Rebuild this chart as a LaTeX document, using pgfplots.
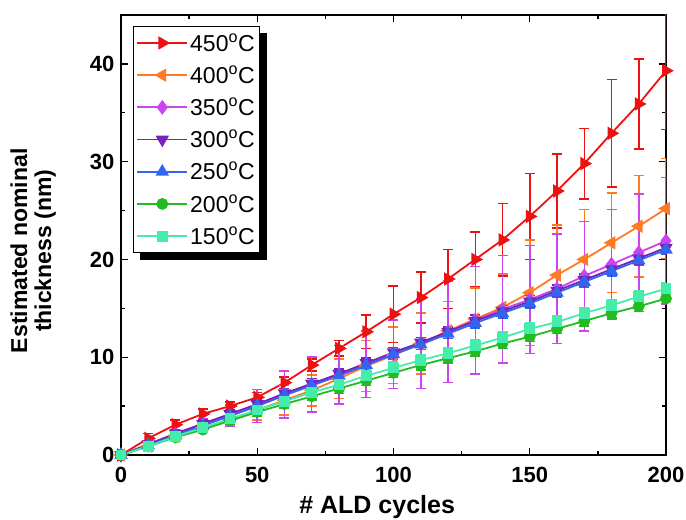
\documentclass[border=0pt]{standalone}
\usepackage{fontspec}
\setmainfont{Liberation Sans}
\usepackage{pgfplots}
\pgfplotsset{compat=1.18}
\usepackage{pgfplotstable}
\pgfdeclarelayer{background}
\pgfsetlayers{background,main}

\definecolor{c450}{HTML}{EE1111}
\definecolor{c400}{HTML}{FF7A22}
\definecolor{c350}{HTML}{CC44EE}
\definecolor{c300}{HTML}{7722BB}
\definecolor{c250}{HTML}{3366EE}
\definecolor{c200}{HTML}{22BB22}
\definecolor{c150}{HTML}{44EEAA}

% columns: cycles, thickness (nm), error (nm)
\pgfplotstableread{
x y e
0 0 0
10 1.7 0.5
20 3.1 0.5
30 4.2 0.5
40 5.0 0.4
50 5.9 0.5
60 7.4 0.6
70 9.2 0.6
80 10.9 0.8
90 12.6 1.7
100 14.4 2.9
110 16.1 2.6
120 18.0 3.0
130 20.0 2.8
140 22.0 3.7
150 24.4 4.4
160 27.0 3.8
170 29.8 3.6
180 32.9 5.5
190 35.9 4.6
200 39.3 6.0
}\tA
\pgfplotstableread{
x y e
0 0 0
10 0.9 0.3
20 1.9 0.4
30 2.8 0.5
40 3.6 0.6
50 4.6 1.0
60 5.6 1.5
70 6.6 1.6
80 7.8 2.0
90 9.1 2.6
100 10.2 2.9
110 11.4 3.1
120 12.7 3.0
130 13.9 3.2
140 15.1 3.4
150 16.6 5.4
160 18.4 5.1
170 20.0 5.1
180 21.7 5.1
190 23.4 5.2
200 25.2 5.1
}\tB
\pgfplotstableread{
x y e
0 0 0
10 1.0 0.3
20 2.1 0.4
30 3.1 0.6
40 4.0 1.1
50 5.0 1.7
60 6.2 2.4
70 7.2 2.8
80 8.2 3.0
90 9.3 3.4
100 10.3 3.5
110 11.4 4.6
120 12.6 5.2
130 13.8 5.5
140 14.9 5.5
150 15.9 5.5
160 17.0 5.6
170 18.3 5.6
180 19.5 5.6
190 20.7 6.0
200 21.9 6.5
}\tC
\pgfplotstableread{
x y e
0 0 0
10 1.1 0.3
20 2.2 0.3
30 3.2 0.4
40 4.2 0.4
50 5.2 0.4
60 6.3 0.5
70 7.3 0.5
80 8.3 0.5
90 9.4 0.5
100 10.5 0.5
110 11.5 0.5
120 12.6 0.5
130 13.7 0.6
140 14.7 0.6
150 15.7 0.6
160 16.8 0.6
170 17.9 0.6
180 19.0 0.6
190 20.1 0.6
200 21.2 0.6
}\tD
\pgfplotstableread{
x y e
0 0 0
10 1.0 0.3
20 2.0 0.3
30 3.0 0.3
40 4.0 0.4
50 5.0 0.4
60 6.1 0.4
70 7.1 0.4
80 8.1 0.5
90 9.2 0.5
100 10.3 0.5
110 11.3 0.5
120 12.4 0.5
130 13.5 0.5
140 14.5 0.5
150 15.5 0.5
160 16.6 0.5
170 17.7 0.5
180 18.8 0.5
190 19.9 0.5
200 21.0 0.5
}\tE
\pgfplotstableread{
x y e
0 0 0
10 0.9 0.3
20 1.8 0.3
30 2.6 0.3
40 3.5 0.4
50 4.4 0.4
60 5.2 0.4
70 6.0 0.4
80 6.8 0.5
90 7.6 0.5
100 8.4 0.5
110 9.2 0.5
120 9.9 0.5
130 10.6 0.5
140 11.4 0.5
150 12.1 0.5
160 12.9 0.5
170 13.7 0.5
180 14.5 0.5
190 15.2 0.5
200 16.0 0.5
}\tF
\pgfplotstableread{
x y e
0 0 0
10 0.9 0.3
20 1.9 0.3
30 2.8 0.4
40 3.7 0.4
50 4.6 0.5
60 5.5 0.5
70 6.4 0.5
80 7.2 0.5
90 8.1 0.6
100 8.9 0.6
110 9.7 0.6
120 10.4 0.6
130 11.2 0.6
140 12.0 0.6
150 12.9 0.6
160 13.6 0.6
170 14.5 0.6
180 15.3 0.6
190 16.2 0.6
200 17.0 0.6
}\tG

\begin{document}
\begin{tikzpicture}
\begin{axis}[
  name=ax,
  scale only axis,
  width=545pt, height=440pt,
  xmin=0, xmax=200, ymin=0, ymax=45,
  xtick={0,50,...,200}, ytick={0,10,...,40},
  minor x tick num=1, minor y tick num=1,
  tick align=inside,
  major tick length=7pt, minor tick length=4pt,
  axis line style={line width=1.6pt},
  every tick/.style={black, line width=1.4pt},
  /pgf/number format/assume math mode=true,
  tick label style={font=\fontsize{22}{26}\selectfont\bfseries},
  xticklabel style={yshift=-9pt},
  yticklabel style={xshift=-3pt},
  xlabel={\# ALD cycles},
  ylabel={Estimated nominal\\thickness (nm)},
  xlabel style={font=\fontsize{25}{29}\selectfont\bfseries,
    at={(axis description cs:0.47,0)}, anchor=north, yshift=-37pt},
  ylabel style={font=\fontsize{23}{24}\selectfont\bfseries,
    at={(axis description cs:-0.119,0.464)}, anchor=south,
    align=center, inner sep=0pt},
  legend style={name=leg, at={(0.022,0.975)}, anchor=north west,
    font=\fontsize{23}{26}\selectfont, draw=black, line width=0.8pt,
    fill=white, row sep=9pt, inner xsep=3pt, inner ysep=5pt},
  legend cell align=left,
  legend image code/.code={%
    \draw[mark=none] (0pt,0pt) -- (50pt,0pt);
    \draw[only marks] plot coordinates {(25pt,0pt)};},
  every axis plot/.append style={line width=1.8pt},
  error bars/error bar style={line width=1.5pt},
  error bars/error mark options={rotate=90, mark size=5pt, line width=1.5pt},
]
% legend entries, in the order 450 -> 150 C
\addlegendimage{color=c450, line width=1.8pt, mark=triangle*, mark size=6pt, mark options={rotate=-90}}
\addlegendentry{450\textsuperscript{o}C}
\addlegendimage{color=c400, line width=1.8pt, mark=triangle*, mark size=6pt, mark options={rotate=90}}
\addlegendentry{400\textsuperscript{o}C}
\addlegendimage{color=c350, line width=1.8pt, mark=diamond*, mark size=6pt}
\addlegendentry{350\textsuperscript{o}C}
\addlegendimage{color=c300, line width=1.8pt, mark=triangle*, mark size=6pt, mark options={rotate=180}}
\addlegendentry{300\textsuperscript{o}C}
\addlegendimage{color=c250, line width=1.8pt, mark=triangle*, mark size=6pt}
\addlegendentry{250\textsuperscript{o}C}
\addlegendimage{color=c200, line width=1.8pt, mark=*, mark size=5pt}
\addlegendentry{200\textsuperscript{o}C}
\addlegendimage{color=c150, line width=1.8pt, mark=square*, mark size=4.5pt}
\addlegendentry{150\textsuperscript{o}C}

% data series with error bars
\addplot[forget plot, color=c450, mark=triangle*, mark size=6pt, mark options={rotate=-90, solid},
  error bars/.cd, y dir=both, y explicit] table[x=x, y=y, y error=e] {\tA};
\addplot[forget plot, color=c400, mark=triangle*, mark size=6pt, mark options={rotate=90, solid},
  error bars/.cd, y dir=both, y explicit] table[x=x, y=y, y error=e] {\tB};
\addplot[forget plot, color=c350, mark=diamond*, mark size=6pt,
  error bars/.cd, y dir=both, y explicit] table[x=x, y=y, y error=e] {\tC};
\addplot[forget plot, color=c300, mark=triangle*, mark size=6pt, mark options={rotate=180},
  error bars/.cd, y dir=both, y explicit] table[x=x, y=y, y error=e] {\tD};
\addplot[forget plot, color=c250, mark=triangle*, mark size=6pt,
  error bars/.cd, y dir=both, y explicit] table[x=x, y=y, y error=e] {\tE};
\addplot[forget plot, color=c200, mark=*, mark size=5pt,
  error bars/.cd, y dir=both, y explicit] table[x=x, y=y, y error=e] {\tF};
\addplot[forget plot, color=c150, mark=square*, mark size=4.5pt,
  error bars/.cd, y dir=both, y explicit] table[x=x, y=y, y error=e] {\tG};
\end{axis}
% solid shadow behind the legend box
\begin{pgfonlayer}{background}
  \fill[black] ([shift={(7pt,-7pt)}]leg.south west) rectangle ([shift={(7pt,-7pt)}]leg.north east);
\end{pgfonlayer}
\pgfresetboundingbox
\path[use as bounding box] ([shift={(-121pt,-65pt)}]ax.south west) rectangle ([shift={(20pt,15pt)}]ax.north east);
\end{tikzpicture}
\end{document}
